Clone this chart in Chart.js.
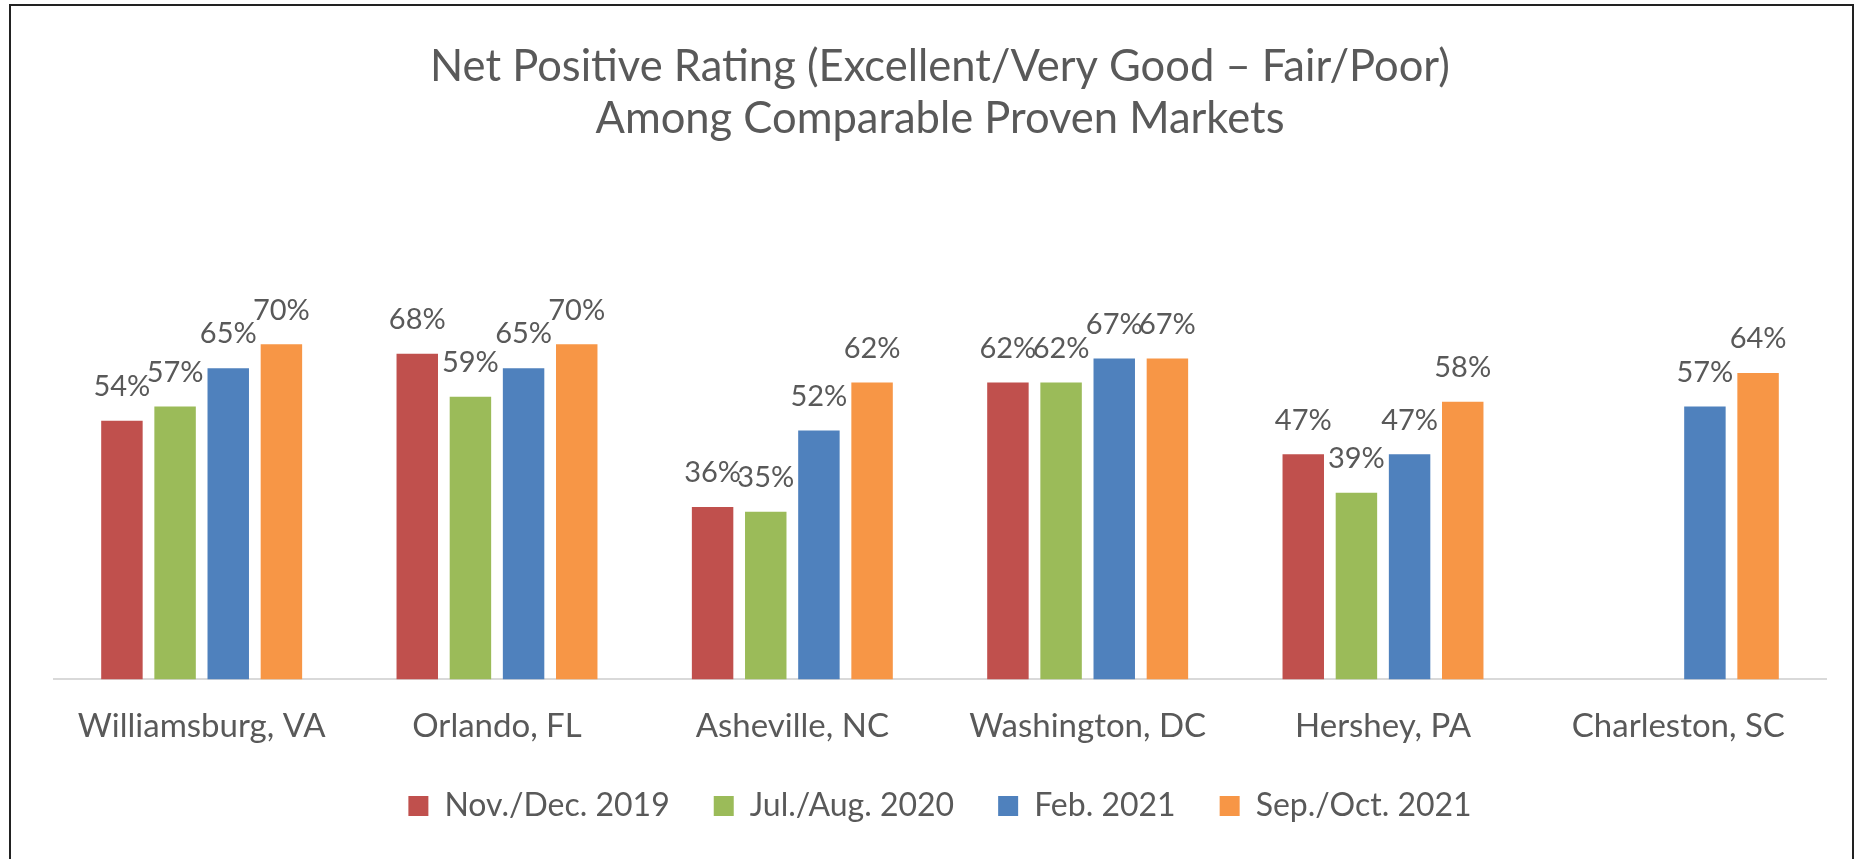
<!DOCTYPE html>
<html>
<head>
<meta charset="utf-8">
<script src="https://cdn.jsdelivr.net/npm/chart.js@4.4.1/dist/chart.umd.min.js"></script>
<style>
    html, body { margin: 0; padding: 0; background: #ffffff; overflow: hidden; }
    #wrap { position: relative; width: 1860px; height: 859px; }
    #frame { position: absolute; left: 9px; top: 4px; width: 1845px; height: 900px; border: 2px solid #222222; box-sizing: border-box; pointer-events: none; }
    canvas { position: absolute; left: 0; top: 0; }
</style>
</head>
<body>
<div id="wrap">
    <canvas id="ratingChart" width="1860" height="859"></canvas>
    <div id="frame"></div>
</div>
<script>
// --- Dados ---
const markets = ['Williamsburg, VA', 'Orlando, FL', 'Asheville, NC', 'Washington, DC', 'Hershey, PA', 'Charleston, SC'];
const waveLabels = ['Nov./Dec. 2019', 'Jul./Aug. 2020', 'Feb. 2021', 'Sep./Oct. 2021'];
const novDec2019 = [54, 68, 36, 62, 47, null];
const julAug2020 = [57, 59, 35, 62, 39, null];
const feb2021 = [65, 65, 52, 67, 47, 57];
const sepOct2021 = [70, 70, 62, 67, 58, 64];
const waveColors = ['#C0504D', '#9BBB59', '#4F81BD', '#F79646'];

const FONT = 'Lato, "Open Sans", sans-serif';
const TEXT_GREY = '#595959';

// rótulos de percentagem acima de cada barra
const valueLabels = {
    id: 'valueLabels',
    afterDatasetsDraw(chart) {
        const ctx = chart.ctx;
        ctx.save();
        ctx.font = '29px ' + FONT;
        ctx.fillStyle = TEXT_GREY;
        ctx.textAlign = 'center';
        ctx.textBaseline = 'middle';
        chart.data.datasets.forEach((ds, i) => {
            const meta = chart.getDatasetMeta(i);
            meta.data.forEach((bar, j) => {
                const v = ds.data[j];
                if (v === null || v === undefined) return;
                ctx.fillText(v + '%', bar.x, bar.y - 34);
            });
        });
        ctx.restore();
    }
};

const seriesData = [novDec2019, julAug2020, feb2021, sepOct2021];

const ctx = document.getElementById('ratingChart').getContext('2d');
new Chart(ctx, {
    type: 'bar',
    data: {
        labels: markets,
        datasets: waveLabels.map((label, i) => ({
            label: label,
            data: seriesData[i],
            backgroundColor: waveColors[i],
            borderWidth: 0,
            barPercentage: 0.78,
            categoryPercentage: 0.72
        }))
    },
    options: {
        responsive: false,
        animation: false,
        layout: {
            padding: { top: 0, left: 54, right: 34, bottom: 27 }
        },
        scales: {
            y: {
                display: false,
                min: 0,
                max: 100
            },
            x: {
                // marcas invisíveis só para afastar os rótulos da linha base
                grid: { display: true, color: 'rgba(0,0,0,0)', drawOnChartArea: false, drawTicks: true, tickLength: 27 },
                border: { display: true, color: '#D9D9D9', width: 2 },
                ticks: {
                    color: TEXT_GREY,
                    padding: 0,
                    font: { family: FONT, size: 33 }
                }
            }
        },
        plugins: {
            title: {
                display: true,
                text: ['Net Positive Rating (Excellent/Very Good \u2013 Fair/Poor)', 'Among Comparable Proven Markets'],
                color: TEXT_GREY,
                font: { family: FONT, size: 43.5, weight: 'normal', lineHeight: 1.19 },
                padding: { top: 41, bottom: 56 }
            },
            legend: {
                position: 'bottom',
                labels: {
                    color: TEXT_GREY,
                    boxWidth: 20,
                    boxHeight: 20,
                    padding: 44,
                    font: { family: FONT, size: 32 }
                }
            },
            tooltip: { enabled: false }
        }
    },
    plugins: [valueLabels]
});
</script>
</body>
</html>
